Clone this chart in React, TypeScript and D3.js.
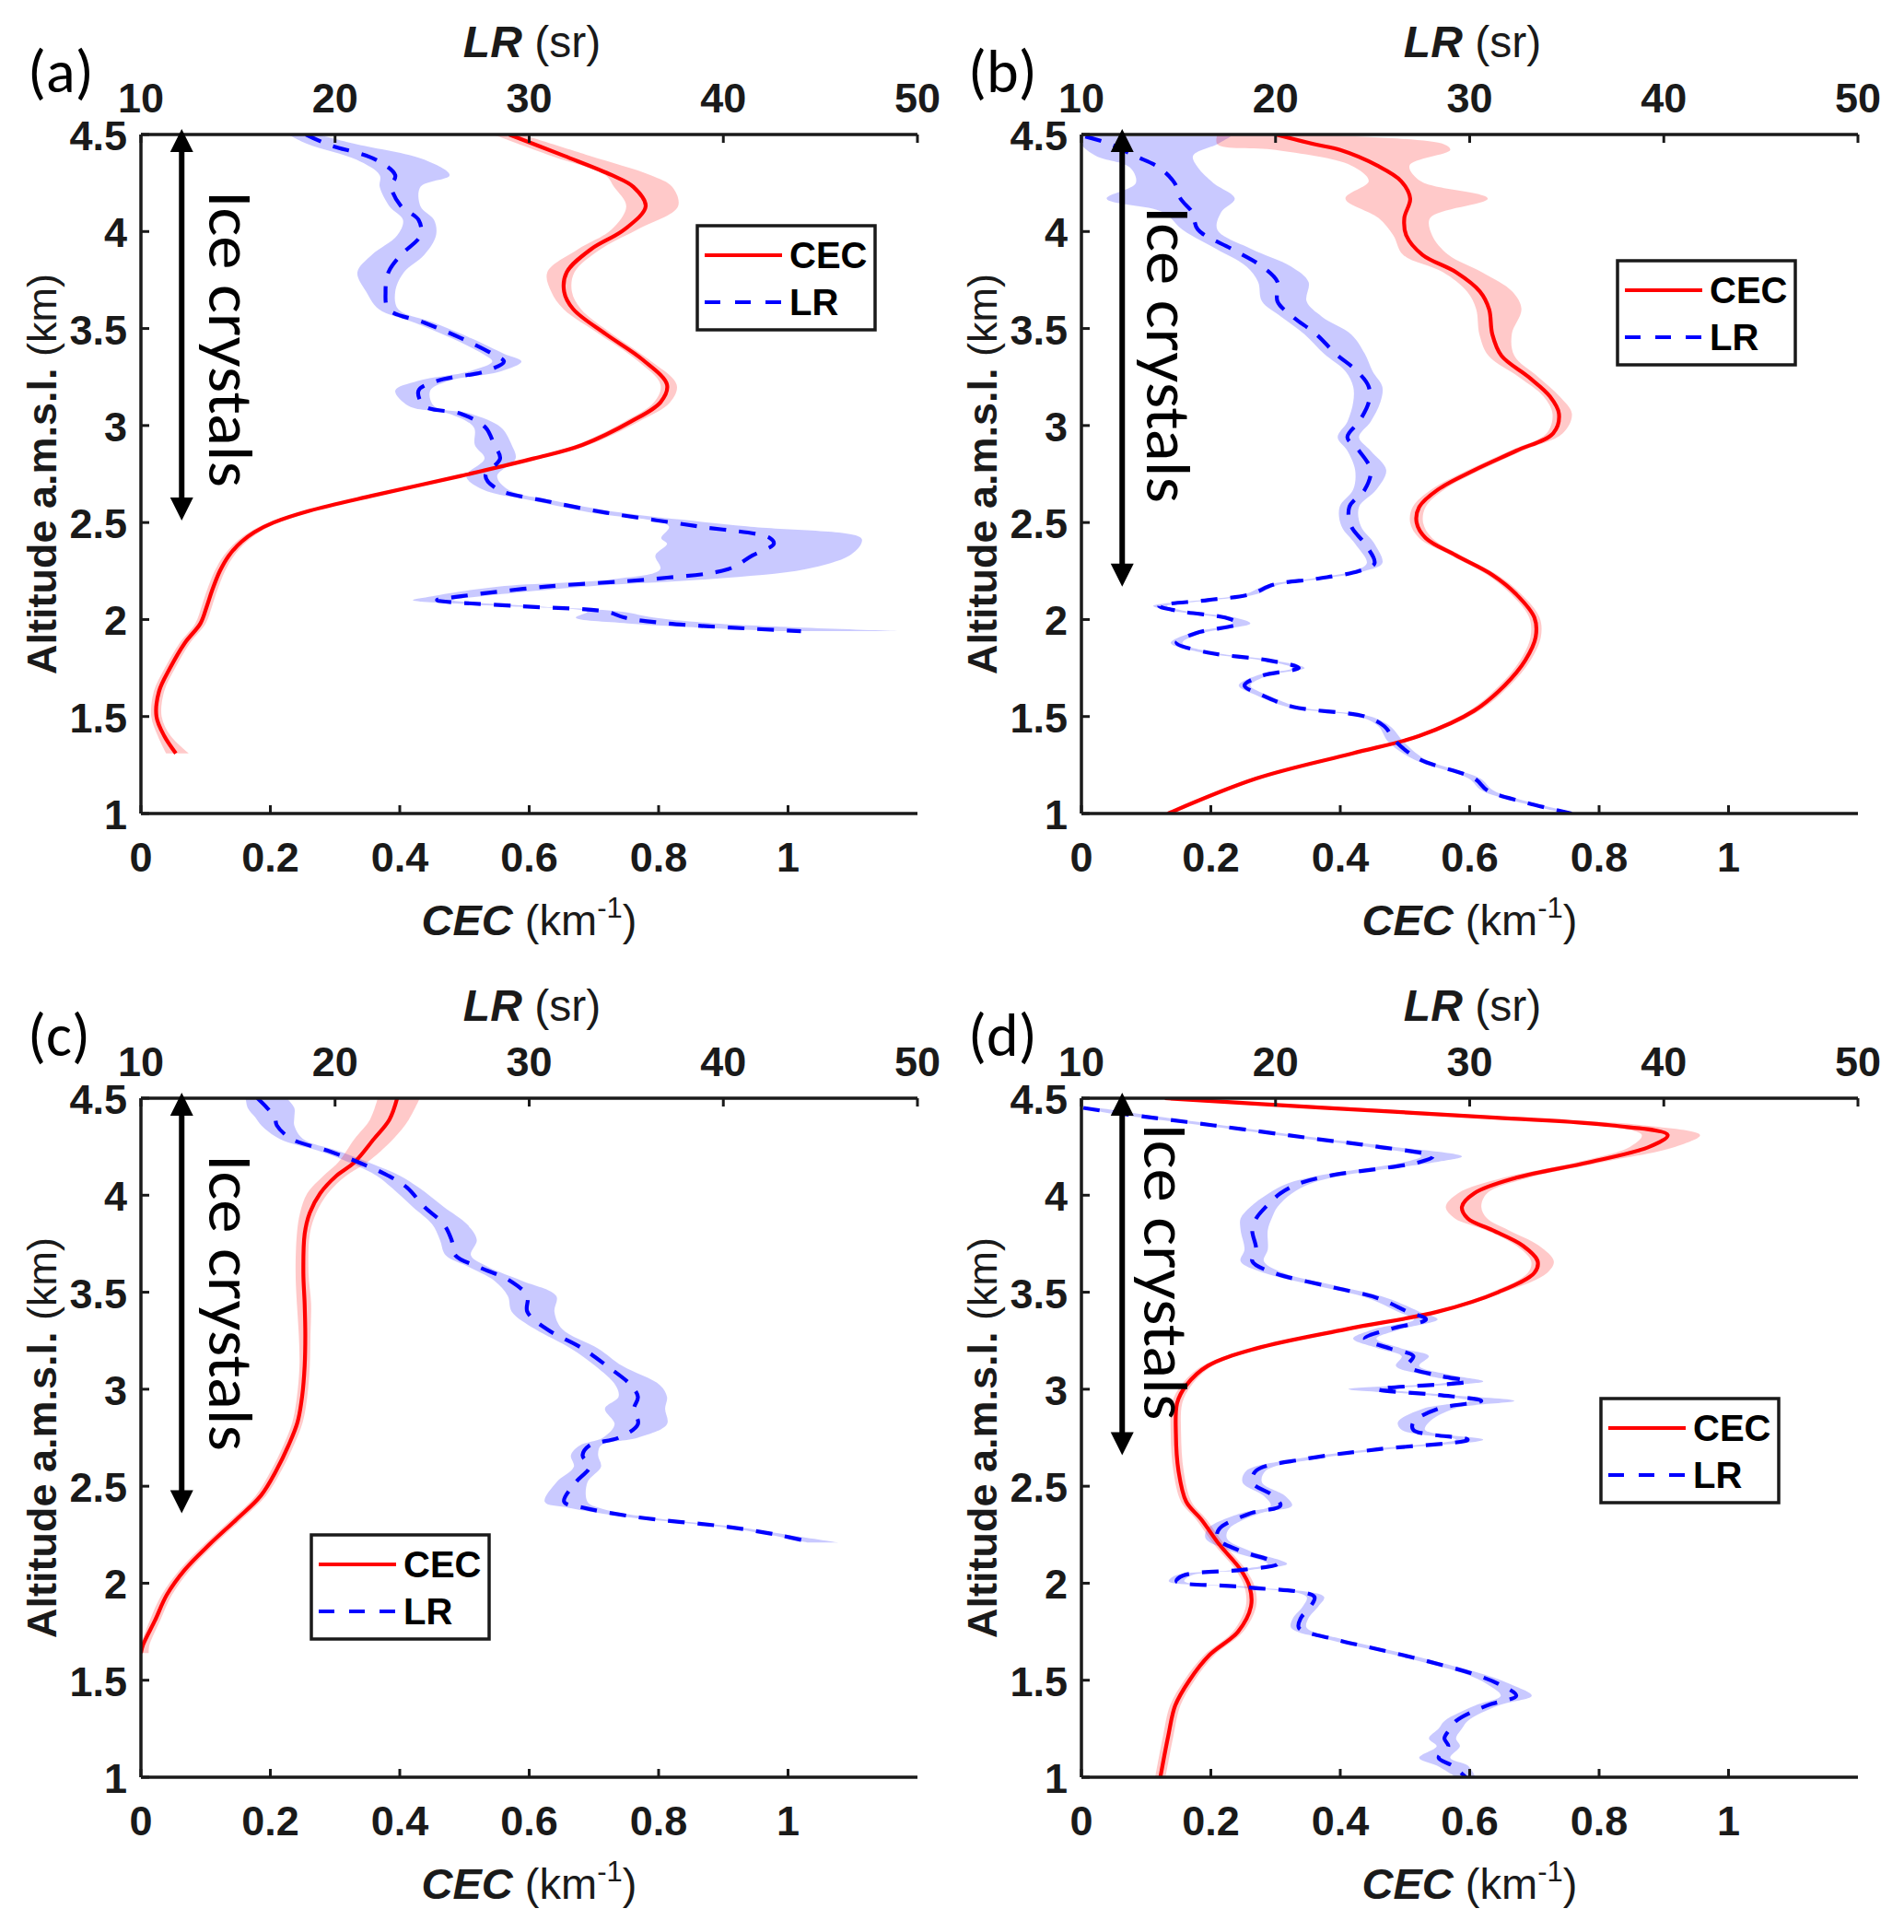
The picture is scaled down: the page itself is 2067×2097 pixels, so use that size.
import React, { useEffect } from 'react';
import * as d3 from 'd3';

// [altitude km, value, band spread to the left, band spread to the right]
type Pt = [number, number, number, number];

const altTicks = [1, 1.5, 2, 2.5, 3, 3.5, 4, 4.5];
const cecTicks = [0, 0.2, 0.4, 0.6, 0.8, 1];
const lrTicks = [10, 20, 30, 40, 50];

const cecA: Pt[] = [
  [4.5, 0.569, 0.025, 0.02], [4.39, 0.654, 0.02, 0.04], [4.29, 0.728, 0.01, 0.06], [4.23, 0.761, 0.03, 0.06],
  [4.13, 0.78, 0.03, 0.05], [4.01, 0.747, 0.02, 0.02], [3.91, 0.696, 0.02, 0.015], [3.79, 0.658, 0.03, 0.012],
  [3.69, 0.654, 0.02, 0.012], [3.6, 0.668, 0.015, 0.012], [3.47, 0.719, 0.01, 0.01], [3.34, 0.775, 0.01, 0.01],
  [3.21, 0.813, 0.01, 0.015], [3.12, 0.803, 0.01, 0.015], [3.02, 0.757, 0.01, 0.012], [2.9, 0.682, 0.01, 0.01],
  [2.83, 0.607, 0.008, 0.008], [2.74, 0.494, 0.008, 0.008], [2.64, 0.36, 0.008, 0.008], [2.56, 0.26, 0.008, 0.008],
  [2.5, 0.205, 0.008, 0.008], [2.45, 0.175, 0.008, 0.008], [2.4, 0.155, 0.008, 0.008], [2.33, 0.136, 0.008, 0.008],
  [2.25, 0.122, 0.008, 0.008], [2.15, 0.11, 0.008, 0.008], [2.07, 0.102, 0.008, 0.008], [1.98, 0.092, 0.008, 0.008],
  [1.88, 0.068, 0.008, 0.008], [1.75, 0.045, 0.008, 0.008], [1.63, 0.028, 0.008, 0.008], [1.5, 0.024, 0.008, 0.008],
  [1.4, 0.036, 0.01, 0.01], [1.31, 0.054, 0.015, 0.02],
];

const lrA: Pt[] = [
  [4.5, 18.5, 0.9, 0.6], [4.45, 19.6, 1.0, 1.5], [4.37, 22.1, 1.0, 2.5], [4.29, 23.1, 0.8, 2.8], [4.23, 22.9, 0.6, 1.5],
  [4.13, 23.4, 0.6, 1.0], [4.06, 24.3, 0.8, 0.8], [3.98, 24.4, 1.2, 0.8], [3.88, 23.4, 1.5, 1.2], [3.79, 22.75, 1.6, 0.8],
  [3.69, 22.6, 1.0, 0.5], [3.6, 22.75, 0.5, 0.5], [3.53, 24.6, 0.5, 0.5], [3.45, 26.5, 0.5, 0.5], [3.37, 28.1, 0.5, 0.6],
  [3.33, 28.7, 0.6, 0.9], [3.28, 27.75, 0.8, 0.8], [3.23, 25.25, 1.0, 0.6], [3.18, 24.3, 1.2, 0.6], [3.1, 24.6, 0.8, 0.5],
  [3.06, 26.5, 0.6, 0.5], [2.99, 27.75, 0.6, 0.8], [2.9, 28.2, 1.0, 0.9], [2.83, 28.5, 0.8, 0.8], [2.74, 27.75, 1.0, 0.6],
  [2.67, 28.4, 0.8, 0.5], [2.61, 30.9, 0.6, 0.5], [2.55, 34.0, 0.8, 0.8], [2.48, 38.7, 1.5, 2.5], [2.42, 42.4, 5.6, 4.7],
  [2.39, 42.6, 5.5, 4.5], [2.33, 41.5, 5.0, 5.0], [2.26, 40.25, 3.5, 4.0], [2.21, 36.5, 2.0, 3.0], [2.17, 30.9, 2.5, 2.0],
  [2.12, 26.5, 1.5, 1.0], [2.1, 25.25, 1.25, 0.8], [2.07, 29.3, 0.8, 0.8], [2.04, 34.0, 1.0, 0.8], [2.01, 34.9, 2.5, 1.5],
  [1.98, 37.1, 2.0, 2.5], [1.94, 44.0, 1.0, 5.3],
];

const cecB: Pt[] = [
  [4.5, 0.30, 0.09, 0.03], [4.45, 0.36, 0.15, 0.2], [4.42, 0.40, 0.1, 0.17], [4.34, 0.457, 0.04, 0.05],
  [4.26, 0.494, 0.05, 0.03], [4.17, 0.508, 0.1, 0.12], [4.07, 0.499, 0.04, 0.04], [3.98, 0.502, 0.02, 0.04],
  [3.88, 0.527, 0.03, 0.04], [3.79, 0.579, 0.02, 0.04], [3.69, 0.616, 0.02, 0.05], [3.6, 0.63, 0.02, 0.05],
  [3.47, 0.635, 0.02, 0.03], [3.36, 0.649, 0.02, 0.02], [3.25, 0.691, 0.015, 0.015], [3.15, 0.724, 0.01, 0.015],
  [3.06, 0.738, 0.01, 0.02], [2.96, 0.729, 0.01, 0.015], [2.87, 0.672, 0.01, 0.01], [2.77, 0.607, 0.01, 0.01],
  [2.67, 0.551, 0.01, 0.01], [2.58, 0.522, 0.01, 0.01], [2.5, 0.518, 0.01, 0.01], [2.42, 0.532, 0.01, 0.01],
  [2.33, 0.579, 0.008, 0.008], [2.23, 0.635, 0.008, 0.008], [2.13, 0.672, 0.008, 0.008], [2.01, 0.70, 0.008, 0.008],
  [1.91, 0.702, 0.008, 0.008], [1.79, 0.686, 0.008, 0.008], [1.66, 0.654, 0.008, 0.008], [1.53, 0.607, 0.008, 0.008],
  [1.4, 0.522, 0.008, 0.008], [1.31, 0.419, 0.008, 0.008], [1.18, 0.27, 0.008, 0.008], [1.0, 0.134, 0.008, 0.008],
];

const lrB: Pt[] = [
  [4.49, 10.2, 0.2, 7.5], [4.45, 11.5, 1.5, 5.5], [4.39, 12.75, 2.0, 3.0], [4.33, 14.0, 1.5, 2.0], [4.25, 14.8, 2.0, 2.0],
  [4.17, 15.1, 3.8, 2.8], [4.1, 15.7, 1.5, 1.5], [4.01, 16.0, 0.8, 1.0], [3.91, 17.75, 0.8, 1.0], [3.82, 19.3, 0.8, 1.5],
  [3.74, 20.1, 1.0, 1.6], [3.64, 20.1, 0.8, 1.5], [3.56, 20.9, 0.6, 1.5], [3.47, 22.1, 0.6, 1.8], [3.37, 23.1, 0.6, 1.5],
  [3.28, 24.2, 0.6, 0.8], [3.2, 24.8, 0.8, 0.7], [3.12, 24.8, 0.8, 0.6], [3.02, 24.3, 0.6, 0.6], [2.94, 23.7, 0.5, 0.6],
  [2.87, 24.3, 0.6, 0.6], [2.77, 24.9, 0.8, 0.8], [2.67, 24.6, 0.6, 0.6], [2.58, 23.8, 0.5, 0.5], [2.48, 23.9, 0.5, 0.5],
  [2.39, 24.6, 0.5, 0.5], [2.29, 25.1, 0.4, 0.4], [2.25, 24.3, 0.3, 0.3], [2.21, 22.1, 0.3, 0.3], [2.18, 19.9, 0.3, 0.3],
  [2.13, 18.7, 0.3, 0.3], [2.1, 16.5, 0.3, 0.3], [2.07, 14.0, 0.3, 0.4], [2.04, 15.25, 0.3, 0.3], [2.01, 17.4, 0.3, 0.5],
  [1.98, 18.1, 0.3, 0.6], [1.93, 15.9, 0.3, 0.3], [1.88, 14.9, 0.3, 0.3], [1.83, 16.5, 0.3, 0.3], [1.79, 19.6, 0.3, 0.3],
  [1.75, 21.2, 0.3, 0.3], [1.71, 19.3, 0.3, 0.3], [1.66, 18.4, 0.3, 0.3], [1.61, 19.3, 0.3, 0.3], [1.55, 20.9, 0.3, 0.3],
  [1.5, 24.6, 0.3, 0.3], [1.45, 25.6, 0.3, 0.3], [1.37, 26.2, 0.4, 0.4], [1.28, 27.4, 0.3, 0.3], [1.18, 30.25, 0.3, 0.3],
  [1.12, 30.9, 0.3, 0.3], [1.06, 32.75, 0.3, 0.3], [1.0, 35.25, 0.3, 0.3],
];

const cecC: Pt[] = [
  [4.5, 0.396, 0.03, 0.035], [4.39, 0.384, 0.03, 0.03], [4.29, 0.36, 0.03, 0.03], [4.17, 0.33, 0.025, 0.02],
  [4.1, 0.302, 0.02, 0.015], [4.01, 0.277, 0.02, 0.012], [3.91, 0.261, 0.015, 0.01], [3.8, 0.253, 0.012, 0.008],
  [3.6, 0.251, 0.012, 0.008], [3.44, 0.253, 0.012, 0.01], [3.28, 0.254, 0.01, 0.008], [3.12, 0.253, 0.008, 0.008],
  [2.96, 0.249, 0.008, 0.008], [2.83, 0.242, 0.008, 0.008], [2.71, 0.228, 0.008, 0.008], [2.58, 0.209, 0.008, 0.008],
  [2.45, 0.185, 0.008, 0.008], [2.33, 0.148, 0.008, 0.008], [2.2, 0.106, 0.008, 0.008], [2.07, 0.068, 0.008, 0.008],
  [1.94, 0.04, 0.008, 0.008], [1.81, 0.022, 0.008, 0.008], [1.68, 0.003, 0.003, 0.01], [1.64, 0.0, 0, 0.012],
];

const lrC: Pt[] = [
  [4.5, 16.0, 0.6, 1.5], [4.45, 16.5, 1.0, 1.4], [4.4, 16.9, 1.0, 1.0], [4.36, 17.0, 0.8, 0.9], [4.29, 17.75, 0.6, 0.6],
  [4.23, 19.6, 0.5, 0.5], [4.17, 21.2, 0.5, 0.5], [4.1, 22.75, 0.6, 0.6], [4.04, 23.7, 0.8, 0.6], [3.94, 24.6, 0.6, 1.0],
  [3.85, 25.6, 0.6, 1.2], [3.77, 26.0, 0.6, 1.3], [3.69, 26.2, 0.5, 0.8], [3.63, 27.4, 0.5, 0.5], [3.56, 29.0, 0.8, 0.6],
  [3.48, 29.9, 1.0, 1.5], [3.4, 29.9, 0.8, 1.4], [3.31, 30.9, 0.6, 0.8], [3.21, 32.75, 0.6, 0.8], [3.12, 34.0, 0.6, 0.8],
  [3.02, 35.25, 0.8, 1.5], [2.96, 35.6, 1.0, 1.5], [2.9, 35.4, 1.5, 1.6], [2.82, 35.6, 1.2, 1.5], [2.75, 34.6, 0.8, 1.0],
  [2.71, 33.1, 0.5, 0.6], [2.66, 32.75, 0.6, 0.8], [2.6, 33.1, 0.8, 0.6], [2.52, 32.4, 1.0, 0.6], [2.42, 31.8, 1.0, 1.2],
  [2.39, 32.75, 0.8, 0.8], [2.34, 35.6, 0.5, 0.5], [2.29, 40.25, 0.4, 0.4], [2.25, 42.75, 0.4, 0.5], [2.21, 44.6, 0.3, 1.3],
];

const cecD: Pt[] = [
  [4.5, 0.129, 0.01, 0.01], [4.45, 0.38, 0.01, 0.05], [4.4, 0.64, 0.01, 0.04], [4.36, 0.82, 0.02, 0.05],
  [4.31, 0.906, 0.04, 0.05], [4.25, 0.878, 0.03, 0.04], [4.17, 0.785, 0.02, 0.02], [4.09, 0.672, 0.02, 0.02],
  [4.01, 0.607, 0.025, 0.02], [3.94, 0.588, 0.025, 0.03], [3.88, 0.597, 0.02, 0.03], [3.82, 0.635, 0.01, 0.025],
  [3.74, 0.682, 0.01, 0.025], [3.66, 0.705, 0.01, 0.025], [3.6, 0.70, 0.01, 0.02], [3.5, 0.644, 0.01, 0.01],
  [3.4, 0.551, 0.008, 0.008], [3.31, 0.41, 0.008, 0.008], [3.21, 0.27, 0.008, 0.008], [3.12, 0.195, 0.008, 0.008],
  [3.02, 0.162, 0.008, 0.008], [2.93, 0.148, 0.008, 0.008], [2.77, 0.146, 0.008, 0.008], [2.58, 0.15, 0.008, 0.008],
  [2.42, 0.162, 0.008, 0.008], [2.33, 0.185, 0.008, 0.008], [2.2, 0.213, 0.008, 0.008], [2.07, 0.246, 0.008, 0.008],
  [1.98, 0.26, 0.008, 0.008], [1.88, 0.262, 0.008, 0.008], [1.75, 0.242, 0.008, 0.008], [1.63, 0.198, 0.008, 0.008],
  [1.5, 0.167, 0.008, 0.008], [1.37, 0.145, 0.008, 0.008], [1.21, 0.134, 0.008, 0.008], [1.0, 0.122, 0.008, 0.008],
];

const lrD: Pt[] = [
  [4.45, 10.1, 0.1, 0.8], [4.42, 12.1, 0.5, 0.8], [4.36, 16.8, 0.5, 0.5], [4.29, 22.1, 0.5, 0.5], [4.25, 25.25, 0.5, 0.8],
  [4.2, 28.1, 0.6, 1.5], [4.17, 27.4, 0.8, 0.8], [4.1, 22.75, 0.6, 0.6], [4.06, 21.2, 0.6, 0.6], [4.01, 20.25, 0.6, 0.6],
  [3.94, 19.5, 0.8, 0.6], [3.88, 19.0, 0.8, 0.8], [3.82, 18.8, 0.6, 0.8], [3.72, 19.0, 0.6, 0.6], [3.66, 18.8, 0.6, 0.6],
  [3.6, 19.9, 0.5, 0.5], [3.53, 22.75, 0.5, 0.5], [3.47, 25.25, 0.5, 0.5], [3.4, 26.8, 0.5, 0.6], [3.36, 27.75, 0.6, 0.6],
  [3.31, 25.9, 0.8, 0.6], [3.26, 24.6, 0.6, 0.6], [3.21, 25.9, 0.6, 0.6], [3.17, 27.1, 0.6, 0.8], [3.12, 26.8, 0.6, 0.6],
  [3.07, 28.4, 0.6, 0.8], [3.04, 29.9, 0.8, 0.8], [3.0, 25.25, 1.5, 0.6], [2.97, 28.4, 0.6, 0.6], [2.94, 30.6, 0.6, 1.7],
  [2.9, 28.4, 0.8, 0.8], [2.83, 27.1, 0.8, 0.8], [2.79, 27.1, 0.6, 0.6], [2.74, 29.9, 0.6, 0.8], [2.69, 25.25, 0.5, 0.5],
  [2.64, 21.5, 0.5, 0.5], [2.58, 19.0, 0.5, 0.5], [2.52, 18.8, 0.5, 0.5], [2.45, 19.9, 0.5, 0.6], [2.4, 20.25, 0.5, 0.6],
  [2.36, 18.7, 0.5, 0.5], [2.28, 17.1, 0.6, 0.5], [2.23, 17.0, 0.6, 0.5], [2.17, 18.1, 0.5, 0.5], [2.1, 20.1, 0.5, 0.5],
  [2.07, 18.4, 0.4, 0.4], [2.04, 15.25, 0.4, 0.4], [2.01, 14.9, 0.4, 0.4], [1.98, 18.4, 0.4, 0.4], [1.93, 22.0, 0.4, 0.5],
  [1.88, 21.8, 0.4, 0.4], [1.82, 21.3, 0.4, 0.4], [1.77, 21.2, 0.4, 0.4], [1.71, 23.1, 0.4, 0.4], [1.66, 25.25, 0.4, 0.4],
  [1.6, 27.75, 0.4, 0.4], [1.53, 30.25, 0.4, 0.5], [1.48, 31.5, 0.6, 0.6], [1.42, 32.4, 0.8, 0.8], [1.37, 30.9, 0.6, 0.6],
  [1.29, 29.3, 0.6, 0.6], [1.25, 29.0, 0.6, 0.6], [1.2, 28.7, 0.8, 0.6], [1.16, 28.9, 0.6, 0.6], [1.1, 28.4, 1.0, 0.6],
  [1.06, 29.1, 0.8, 0.8], [1.0, 29.8, 0.5, 0.5],
];

const panelLabels = ['(a)', '(b)', '(c)', '(d)'];
const cecSeries = [cecA, cecB, cecC, cecD];
const lrSeries = [lrA, lrB, lrC, lrD];
// arrow bottom (km) and top of the "Ice crystals" text (km)
const arrowEnds = [2.51, 2.17, 2.36, 2.66];
const textTops = [4.21, 4.13, 4.21, 4.37];

const W = 843;
const H = 737;
const ARIAL = '"Liberation Sans", Arial, sans-serif';
const CALIBRI = 'Carlito, Calibri, Lato, sans-serif';
const INK = '#1a1a1a';

const layout = [
  { left: 153, top: 146, legend: [604, 99], textX: 74 },
  { left: 1174, top: 146, legend: [582, 137], textX: 71 },
  { left: 153, top: 1192, legend: [185, 474], textX: 74 },
  { left: 1174, top: 1192, legend: [564, 326], textX: 68 },
];

function Panel({ i }: { i: number }) {
  const { left, top, legend, textX } = layout[i];
  const x = d3.scaleLinear().domain([0, 1.2]).range([0, W]);
  const xl = d3.scaleLinear().domain([10, 50]).range([0, W]);
  const y = d3.scaleLinear().domain([1, 4.5]).range([H, 0]);

  const cecLine = d3.line<Pt>().x(d => x(d[1])).y(d => y(d[0])).curve(d3.curveCatmullRom);
  const cecBand = d3.area<Pt>()
    .x0(d => x(d[1] - d[2])).x1(d => x(d[1] + d[3])).y(d => y(d[0]))
    .curve(d3.curveCatmullRom);
  const lrLine = d3.line<Pt>().x(d => xl(d[1])).y(d => y(d[0])).curve(d3.curveCatmullRom);
  const lrBand = d3.area<Pt>()
    .x0(d => xl(d[1] - d[2])).x1(d => xl(d[1] + d[3])).y(d => y(d[0]))
    .curve(d3.curveCatmullRom);

  const clipId = `clip-${i}`;
  const ax = x(0.063);
  const aTop = y(4.5) - 6;
  const aBot = y(arrowEnds[i]);
  const head = 25;
  const [lx, ly] = legend;

  return (
    <g transform={`translate(${left},${top})`}>
      <defs>
        <clipPath id={clipId}>
          <rect x={0} y={0} width={W} height={H} />
        </clipPath>
      </defs>

      <g clipPath={`url(#${clipId})`}>
        <path d={lrBand(lrSeries[i]) || ''} fill="#0000ff" fillOpacity={0.21} />
        <path d={cecBand(cecSeries[i]) || ''} fill="#ff0000" fillOpacity={0.21} />
        <path d={cecLine(cecSeries[i]) || ''} fill="none" stroke="#ff0000" strokeWidth={4.2} />
        <path d={lrLine(lrSeries[i]) || ''} fill="none" stroke="#0000ff" strokeWidth={4.2} strokeDasharray="18,14" />
      </g>

      {/* axes */}
      <line x1={0} x2={W} y1={H} y2={H} stroke={INK} strokeWidth={3.5} />
      <line x1={0} x2={W} y1={0} y2={0} stroke={INK} strokeWidth={3.5} />
      <line x1={0} x2={0} y1={0} y2={H} stroke={INK} strokeWidth={3.5} />

      {cecTicks.map(t => (
        <g key={`cx${t}`}>
          <line x1={x(t)} x2={x(t)} y1={H} y2={H - 9} stroke={INK} strokeWidth={3} />
          <text x={x(t)} y={H + 63} textAnchor="middle" fontFamily={ARIAL} fontWeight="bold" fontSize={45} fill={INK}>{t}</text>
        </g>
      ))}
      {lrTicks.map(t => (
        <g key={`lx${t}`}>
          <line x1={xl(t)} x2={xl(t)} y1={0} y2={9} stroke={INK} strokeWidth={3} />
          <text x={xl(t)} y={-24} textAnchor="middle" fontFamily={ARIAL} fontWeight="bold" fontSize={45} fill={INK}>{t}</text>
        </g>
      ))}
      {altTicks.map(t => (
        <g key={`ay${t}`}>
          <line x1={0} x2={9} y1={y(t)} y2={y(t)} stroke={INK} strokeWidth={3} />
          <text x={-15} y={y(t) + 17} textAnchor="end" fontFamily={ARIAL} fontWeight="bold" fontSize={45} fill={INK}>{t}</text>
        </g>
      ))}

      {/* axis titles */}
      <text x={W / 2 + 3} y={-84} textAnchor="middle" fontFamily={ARIAL} fontSize={48} fill={INK}>
        <tspan fontWeight="bold" fontStyle="italic">LR</tspan>
        <tspan> (sr)</tspan>
      </text>
      <text x={W / 2} y={H + 132} textAnchor="middle" fontFamily={ARIAL} fontSize={47} fill={INK}>
        <tspan fontWeight="bold" fontStyle="italic">CEC</tspan>
        <tspan> (km</tspan>
        <tspan fontSize={31} dy={-19}>-1</tspan>
        <tspan dy={19}>)</tspan>
      </text>
      <text transform={`translate(-92,${H / 2}) rotate(-90)`} textAnchor="middle" fontFamily={ARIAL} fontSize={45} fill={INK}>
        <tspan fontWeight="bold">Altitude a.m.s.l. </tspan>
        <tspan>(km)</tspan>
      </text>
      <text x={-123} y={-46} fontFamily={CALIBRI} fontSize={66} fill="#000">{panelLabels[i]}</text>

      {/* ice crystals arrow */}
      <line x1={ax} x2={ax} y1={aTop + head - 2} y2={aBot - head + 2} stroke="#000" strokeWidth={6} />
      <path d={`M${ax},${aTop} L${ax - 12.5},${aTop + head} L${ax + 12.5},${aTop + head} Z`} fill="#000" />
      <path d={`M${ax},${aBot} L${ax - 12.5},${aBot - head} L${ax + 12.5},${aBot - head} Z`} fill="#000" />
      <text transform={`translate(${textX},${y(textTops[i])}) rotate(90)`} fontFamily={CALIBRI} fontSize={68}
        textLength={322} lengthAdjust="spacingAndGlyphs" fill="#000">Ice crystals</text>

      {/* legend */}
      <g transform={`translate(${lx},${ly})`}>
        <rect x={0} y={0} width={193} height={113} fill="#fff" stroke={INK} strokeWidth={3.5} />
        <line x1={8} x2={92} y1={32} y2={32} stroke="#ff0000" strokeWidth={4.2} />
        <line x1={8} x2={92} y1={83} y2={83} stroke="#0000ff" strokeWidth={4.2} strokeDasharray="17,16" />
        <text x={100} y={46} fontFamily={ARIAL} fontWeight="bold" fontSize={40} fill="#000">CEC</text>
        <text x={100} y={97} fontFamily={ARIAL} fontWeight="bold" fontSize={40} fill="#000">LR</text>
      </g>
    </g>
  );
}

export default function App() {
  useEffect(() => {
    document.body.style.margin = '0';
  }, []);
  return (
    <svg width={2067} height={2097} style={{ display: 'block', background: '#fff' }}>
      {[0, 1, 2, 3].map(i => <Panel key={i} i={i} />)}
    </svg>
  );
}
